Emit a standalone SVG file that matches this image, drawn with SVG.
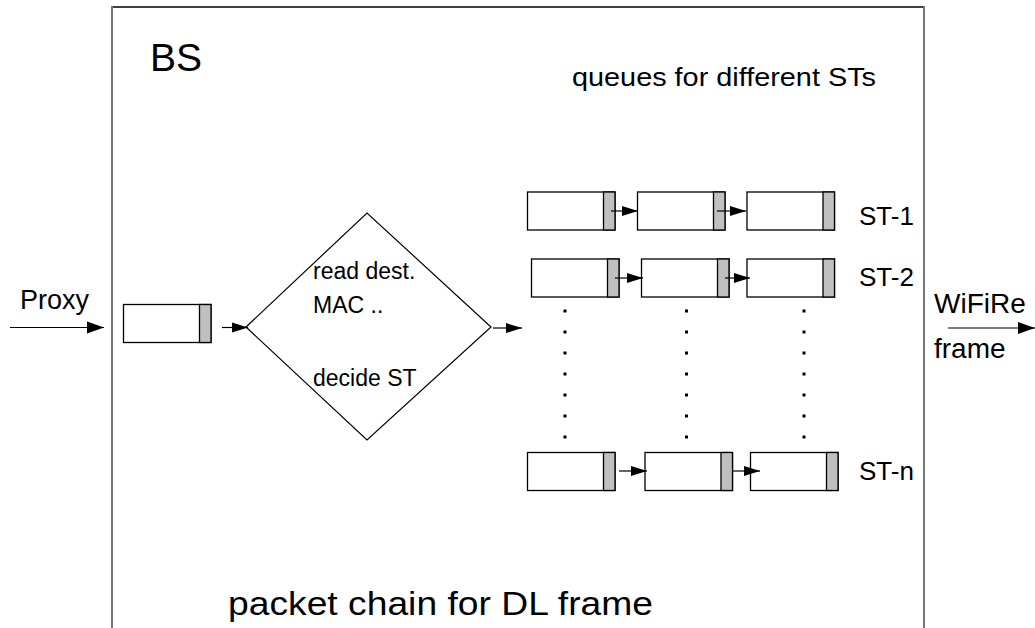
<svg xmlns="http://www.w3.org/2000/svg" width="1035" height="628" viewBox="0 0 1035 628">
  <style>
    text { font-family: "Liberation Sans", Arial, sans-serif; fill: #000; }
    .edge { stroke: #000; stroke-width: 1.2; fill: none; }
    .pkt { fill: #fff; stroke: #000; stroke-width: 1.3; }
    .tail { fill: #c0c0c0; stroke: #000; stroke-width: 1.3; }
    .dot { fill: #000; }
  </style>
  <defs>
    <marker id="ah" markerUnits="userSpaceOnUse" markerWidth="17" markerHeight="12" refX="16" refY="6" orient="auto">
      <path d="M0,1 L16,6 L0,11 Z" fill="#000"/>
    </marker>
    <marker id="ahBig" markerUnits="userSpaceOnUse" markerWidth="18" markerHeight="13" refX="17" refY="6.5" orient="auto">
      <path d="M0,0.5 L17,6.5 L0,12.5 Z" fill="#000"/>
    </marker>
    <!-- one packet: white body with grey tail -->
    <g id="packet">
      <rect class="pkt" x="0" y="0" width="87.5" height="38"/>
      <rect class="tail" x="76" y="0" width="11.5" height="38"/>
    </g>
  </defs>

  <!-- base station frame -->
  <g id="bs">
    <line x1="112" y1="7" x2="924" y2="7" stroke="#000" stroke-width="1.6"/>
    <line x1="112" y1="6" x2="112" y2="628" stroke="#777" stroke-width="2"/>
    <line x1="924" y1="6" x2="924" y2="628" stroke="#777" stroke-width="2"/>
    <text x="150" y="71" font-size="39">BS</text>
    <text x="572" y="86" font-size="26" textLength="304" lengthAdjust="spacingAndGlyphs">queues for different STs</text>
    <text x="228" y="615" font-size="34" textLength="425" lengthAdjust="spacingAndGlyphs">packet chain for DL frame</text>
  </g>

  <!-- incoming packet -->
  <g id="in-packet">
    <use href="#packet" x="123.5" y="304.5"/>
  </g>

  <!-- classifier -->
  <g id="classifier">
    <polygon points="246,327 367,213 491,327 367,440" fill="#fff" stroke="#000" stroke-width="1.2"/>
    <text x="313" y="279" font-size="23">read dest.</text>
    <text x="313" y="313" font-size="23">MAC ..</text>
    <text x="313" y="386" font-size="23">decide ST</text>
  </g>

  <!-- per-station queues -->
  <g id="queue-st1">
    <use href="#packet" x="527.5" y="192"/>
    <use href="#packet" x="637.5" y="192"/>
    <use href="#packet" x="747" y="192"/>
    <text x="859" y="225" font-size="26">ST-1</text>
  </g>
  <g id="queue-st2">
    <use href="#packet" x="531.5" y="259"/>
    <use href="#packet" x="641.5" y="259"/>
    <use href="#packet" x="747" y="259"/>
    <text x="859" y="286" font-size="26">ST-2</text>
  </g>
  <g id="queue-stn">
    <use href="#packet" x="527.5" y="452.5"/>
    <use href="#packet" x="645" y="452.5"/>
    <use href="#packet" x="750.5" y="452.5"/>
    <text x="859" y="480" font-size="26">ST-n</text>
  </g>

  <!-- elided queues -->
  <g id="ellipsis">
    <g class="dot">
      <rect x="563.5" y="309.5" width="3" height="3"/>
      <rect x="563.5" y="330.5" width="3" height="3"/>
      <rect x="563.5" y="351.5" width="3" height="3"/>
      <rect x="563.5" y="372.5" width="3" height="3"/>
      <rect x="563.5" y="393.5" width="3" height="3"/>
      <rect x="563.5" y="414.5" width="3" height="3"/>
      <rect x="563.5" y="435.5" width="3" height="3"/>
      <rect x="685" y="309.5" width="3" height="3"/>
      <rect x="685" y="330.5" width="3" height="3"/>
      <rect x="685" y="351.5" width="3" height="3"/>
      <rect x="685" y="372.5" width="3" height="3"/>
      <rect x="685" y="393.5" width="3" height="3"/>
      <rect x="685" y="414.5" width="3" height="3"/>
      <rect x="685" y="435.5" width="3" height="3"/>
      <rect x="802.5" y="309.5" width="3" height="3"/>
      <rect x="802.5" y="330.5" width="3" height="3"/>
      <rect x="802.5" y="351.5" width="3" height="3"/>
      <rect x="802.5" y="372.5" width="3" height="3"/>
      <rect x="802.5" y="393.5" width="3" height="3"/>
      <rect x="802.5" y="414.5" width="3" height="3"/>
      <rect x="802.5" y="435.5" width="3" height="3"/>
    </g>
  </g>

  <!-- external labels -->
  <g id="labels">
    <text x="20" y="309" font-size="27">Proxy</text>
    <text x="934" y="313" font-size="28">WiFiRe</text>
    <text x="934" y="358" font-size="28">frame</text>
  </g>

  <!-- connectors -->
  <g id="connectors">
    <line class="edge" x1="10" y1="327.5" x2="104" y2="327.5" marker-end="url(#ahBig)"/>
    <line class="edge" x1="222" y1="327.5" x2="248" y2="327.5" marker-end="url(#ah)"/>
    <line class="edge" x1="493" y1="328" x2="522" y2="328" marker-end="url(#ah)"/>
    <line class="edge" x1="948" y1="328" x2="1035" y2="328" marker-end="url(#ahBig)"/>
    <line class="edge" x1="611" y1="211" x2="638" y2="211" marker-end="url(#ah)"/>
    <line class="edge" x1="717" y1="211" x2="746" y2="211" marker-end="url(#ah)"/>
    <line class="edge" x1="615" y1="278" x2="643" y2="278" marker-end="url(#ah)"/>
    <line class="edge" x1="725" y1="278" x2="750" y2="278" marker-end="url(#ah)"/>
    <line class="edge" x1="619" y1="471" x2="647" y2="471" marker-end="url(#ah)"/>
    <line class="edge" x1="732" y1="471" x2="760" y2="471" marker-end="url(#ah)"/>
  </g>
</svg>
